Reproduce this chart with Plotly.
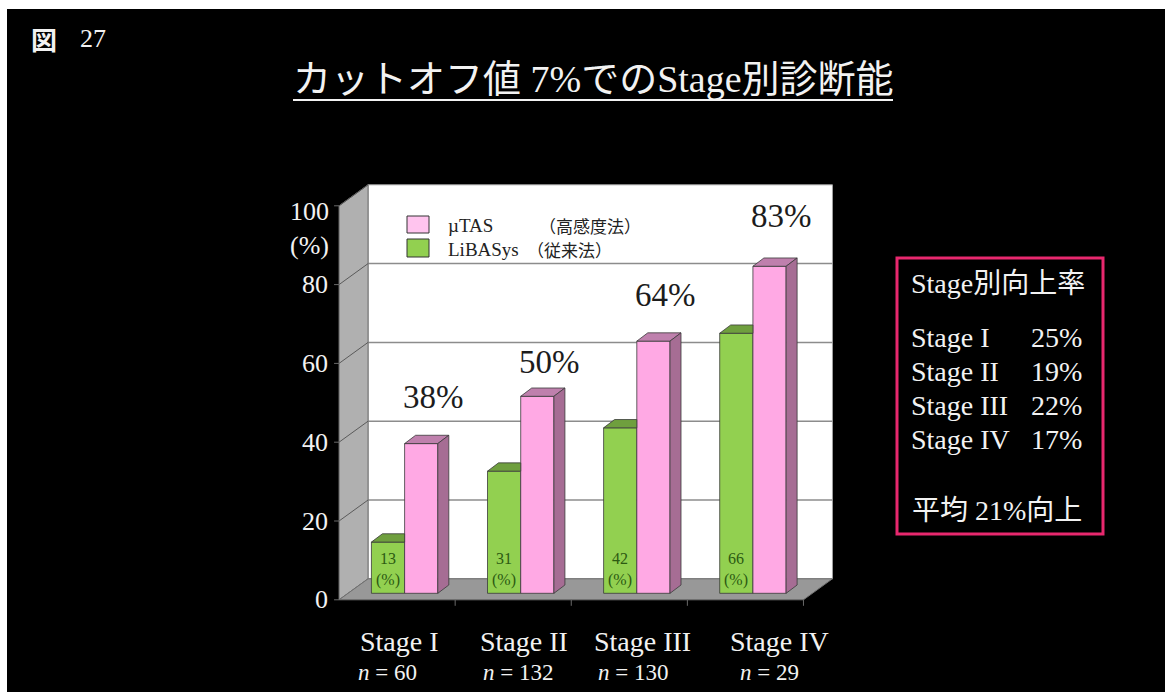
import plotly.graph_objects as go

# ---- data ---------------------------------------------------------------
stages = ["Stage I", "Stage II", "Stage III", "Stage IV"]
n_cases = [60, 132, 130, 29]
libasys = [13, 31, 42, 66]   # LiBASys（従来法）, %
mutas = [38, 50, 64, 83]     # µTAS（高感度法）, %
y_ticks = [0, 20, 40, 60, 80, 100]

# ---- page geometry ------------------------------------------------------
W, H = 1165, 692
L, R, T, B = 300, 305, 150, 42
PW, PH = W - L - R, H - T - B

X0 = -0.901
X1 = X0 + PW / 116.1
Y0 = -14.39
Y1 = Y0 + PH / 3.94
UX = PW / (X1 - X0)   # px per x unit
UY = PH / (Y1 - Y0)   # px per y unit


def dx(p):
    return p / UX


def dy(p):
    return p / UY


def px(p):
    return (p - L) / PW


def py(p):
    return (T + PH - p) / PH


# pseudo-3D offsets (front floor edge, back wall, bar depth)
FX, FY = dx(-7.5), dy(-6.5)
BX, BY = dx(21.5), dy(14.5)
TX, TY = dx(11), dy(8.3)
BW = dx(33.2)

SERIF = "Liberation Serif, 'Noto Sans CJK JP', serif"
GOTHIC = "'Noto Sans CJK JP', sans-serif"
WHITE = "#f2f2f2"
GREEN, GREEN_TOP = "#92d050", "#6f9f3e"
PINK, PINK_TOP, PINK_SIDE = "#ffa9e4", "#bf80ad", "#a66d94"
EDGE = "#3a3a3a"

fig = go.Figure()

# ---- front faces of the bars ---------------------------------------------
xs = list(range(len(stages)))
fig.add_trace(go.Bar(x=xs, y=libasys, width=BW, offset=-BW, marker=dict(color=GREEN, line=dict(color=EDGE, width=0.8)),
                     hoverinfo="skip", showlegend=False))
fig.add_trace(go.Bar(x=xs, y=mutas, width=BW, offset=0, marker=dict(color=PINK, line=dict(color=EDGE, width=0.8)),
                     hoverinfo="skip", showlegend=False))


def poly(xv, yv, color):
    fig.add_trace(go.Scatter(x=xv + [xv[0]], y=yv + [yv[0]], mode="lines", fill="toself", fillcolor=color,
                             line=dict(color=EDGE, width=0.8), hoverinfo="skip", showlegend=False))


for i, (g, m) in enumerate(zip(libasys, mutas)):
    gl, gr = i - BW, i
    # green top, cut off where the pink bar stands in front of it
    poly([gl, gr, gr, gl + TX], [g, g, g + TY, g + TY], GREEN_TOP)
    pl, pr = i, i + BW
    poly([pl, pr, pr + TX, pl + TX], [m, m, m + TY, m + TY], PINK_TOP)
    poly([pr, pr, pr + TX, pr + TX], [0, m, m + TY, TY], PINK_SIDE)

# ---- walls, floor, grid ----------------------------------------------------
shapes = []
xl, xr = -0.5, len(stages) - 0.5
shapes.append(dict(type="rect", layer="below", x0=xl + BX, x1=xr + BX, y0=BY, y1=100 + BY,
                   fillcolor="white", line=dict(color="#a0a0a0", width=1)))
for v in y_ticks[1:-1]:
    shapes.append(dict(type="line", layer="below", x0=xl + BX, x1=xr + BX, y0=v + BY, y1=v + BY,
                       line=dict(color="#8c8c8c", width=1.5)))
shapes.append(dict(type="path", layer="below",
                   path=f"M{xl + FX},{FY} L{xl + FX},{100 + FY} L{xl + BX},{100 + BY} L{xl + BX},{BY} Z",
                   fillcolor="#b0b0b0", line=dict(color="#707070", width=1)))
for v in y_ticks[1:]:
    shapes.append(dict(type="line", layer="below", x0=xl + FX, x1=xl + BX, y0=v + FY, y1=v + BY,
                       line=dict(color="#5a5a5a", width=1)))
shapes.append(dict(type="path", layer="below",
                   path=f"M{xl + FX},{FY} L{xr + FX},{FY} L{xr + BX},{BY} L{xl + BX},{BY} Z",
                   fillcolor="#989898", line=dict(color="#707070", width=1)))
for v in y_ticks:
    shapes.append(dict(type="line", layer="below", x0=xl + FX - dx(5), x1=xl + FX, y0=v + FY, y1=v + FY,
                       line=dict(color="#6a6a6a", width=1)))
for k in range(1, len(stages) + 1):
    shapes.append(dict(type="line", layer="below", x0=k - 0.5 + FX, x1=k - 0.5 + FX, y0=FY, y1=FY - dy(6),
                       line=dict(color="#6a6a6a", width=1)))

# legend swatches
shapes.append(dict(type="rect", xref="paper", yref="paper", x0=px(407), x1=px(429), y0=py(216), y1=py(233),
                   fillcolor="#ffc4ee", line=dict(color="#333", width=1)))
shapes.append(dict(type="rect", xref="paper", yref="paper", x0=px(407), x1=px(429), y0=py(239), y1=py(257),
                   fillcolor=GREEN, line=dict(color="#333", width=1)))

# title underline, summary frame, page edge
shapes.append(dict(type="line", xref="paper", yref="paper", x0=px(293), x1=px(893), y0=py(100), y1=py(100),
                   line=dict(color=WHITE, width=2)))
shapes.append(dict(type="rect", xref="paper", yref="paper", x0=px(897), x1=px(1103), y0=py(258), y1=py(534),
                   line=dict(color="#e8286e", width=3)))
shapes.append(dict(type="rect", xref="paper", yref="paper", x0=px(0), x1=px(W), y0=py(0), y1=py(9),
                   fillcolor="white", line=dict(width=0)))
shapes.append(dict(type="rect", xref="paper", yref="paper", x0=px(0), x1=px(7), y0=py(0), y1=py(H),
                   fillcolor="white", line=dict(width=0)))

# ---- text ----------------------------------------------------------------
ann = []


def text(x, y, s, size, color=WHITE, family=SERIF, xanchor="center", yanchor="middle", xref="paper", yref="paper", **kw):
    ann.append(dict(x=x, y=y, xref=xref, yref=yref, text=s, showarrow=False, xanchor=xanchor, yanchor=yanchor,
                    font=dict(size=size, color=color, family=family), **kw))


text(px(29), py(38), "<b>図</b>", 26, family=GOTHIC, xanchor="left")
text(px(78), py(38), "27", 26, xanchor="left")
text(px(593), py(79), "カットオフ値 7%でのStage別診断能", 38)

# y axis labels on the front edge of the side wall
for v in y_ticks[:-1]:
    text(xl + FX, v + FY, str(v), 26, xanchor="right", xref="x", yref="y", xshift=-9)
text(xl + FX, y_ticks[-1] + FY, f"{y_ticks[-1]}<br>(%)", 26, xanchor="right", xref="x", yref="y",
     xshift=-8, yshift=-23, align="right")

# legend text
text(px(446), py(225), "µTAS", 19, color="#222", xanchor="left")
text(px(537), py(225), "（高感度法）", 17, color="#222", family=GOTHIC, xanchor="left")
text(px(446), py(250), "LiBASys", 19, color="#222", xanchor="left")
text(px(525), py(250), "（従来法）", 17, color="#222", family=GOTHIC, xanchor="left")

# values on the bars
LIFT = [47, 34, 46, 50]
for i, (g, m) in enumerate(zip(libasys, mutas)):
    text(i + BW / 2, m, f"{m}%", 33, color="#1c1c1c", xref="x", yref="y", xshift=12, yshift=LIFT[i])
    text(i - BW / 2, 0, f"{g}<br>(%)", 16, color="#2c5a12", xref="x", yref="y", yanchor="bottom", yshift=2)

# category labels
STAGE_SHIFT = [-5, 3, 6, 27]
N_SHIFT = [-17, -3, -4, 17]
for i, (s, n) in enumerate(zip(stages, n_cases)):
    text(i, py(641), s, 28, xref="x", xshift=STAGE_SHIFT[i])
    text(i, py(672), f"<i>n</i> = {n}", 23, xref="x", xshift=N_SHIFT[i])

# improvement summary
gain = [m - g for g, m in zip(libasys, mutas)]
text(px(909), py(283), "Stage別向上率", 28, xanchor="left")
rows_y = [337, 371, 405, 439]
for s, d, yy in zip(stages, gain, rows_y):
    text(px(909), py(yy), s, 28, xanchor="left")
    text(px(1084), py(yy), f"{d}%", 28, xanchor="right")
text(px(910), py(510), f"平均 {round(sum(gain) / len(gain))}%向上", 28, xanchor="left")

fig.update_layout(
    width=W, height=H, margin=dict(l=L, r=R, t=T, b=B, pad=0),
    paper_bgcolor="black", plot_bgcolor="black",
    barmode="overlay", showlegend=False,
    xaxis=dict(range=[X0, X1], visible=False, fixedrange=True),
    yaxis=dict(range=[Y0, Y1], visible=False, fixedrange=True),
    shapes=shapes, annotations=ann,
)

fig.write_html("out.html")
